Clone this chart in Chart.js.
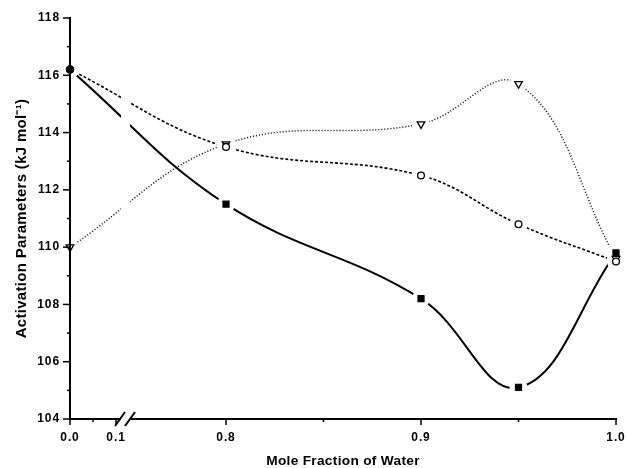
<!DOCTYPE html>
<html>
<head>
<meta charset="utf-8">
<script src="https://cdn.jsdelivr.net/npm/chart.js@4.4.0/dist/chart.umd.min.js"></script>
<style>
  html, body { margin: 0; padding: 0; background: #fff; }
</style>
</head>
<body>
<canvas id="chart" width="626" height="468"></canvas>
<script>
const moleFraction = [0.0, 0.8, 0.9, 0.95, 1.0];
const seriesSquare = [116.2, 111.5, 108.2, 105.1, 109.8];
const seriesCircle = [116.2, 113.5, 112.5, 110.8, 109.5];
const seriesTriangle = [110.0, 113.6, 114.3, 115.7, 109.6];

const xTickValues = [0.0, 0.05, 0.1, 0.8, 0.85, 0.9, 0.95, 1.0];
const xTickLabels = ["0.0", "", "0.1", "0.8", "", "0.9", "", "1.0"];

// broken axis: the 0.0-0.1 stretch is squeezed in front of 0.8-1.0
function toAxis(x) {
  return x <= 0.1 ? 0.72 + x * 0.236 : x;
}
const pts = arr => moleFraction.map((x, i) => ({ x: toAxis(x), y: arr[i] }));

const FONT = "'Liberation Sans', Arial, sans-serif";
const black = "#000";

function lineSet(arr, width, dash) {
  return {
    data: pts(arr), showLine: true, borderColor: black, borderWidth: width, borderDash: dash,
    pointRadius: 0, pointHoverRadius: 0, tension: 0.4, fill: false, order: 3
  };
}
function haloSet(arr) {
  return {
    data: pts(arr), showLine: false, pointRadius: 9, pointBorderWidth: 0,
    pointBackgroundColor: "#fff", pointHoverRadius: 9, order: 2
  };
}
function markerSet(arr, style, radius, filled, rotation) {
  return {
    data: pts(arr), showLine: false, pointStyle: style, pointRadius: radius,
    pointRotation: rotation || 0, pointBorderColor: black, pointBorderWidth: 1.3,
    pointBackgroundColor: filled ? black : "#fff", clip: false, order: 1
  };
}

// tick marks, axis break and letter spacing of the texts
const axisExtras = {
  id: "axisExtras",
  beforeDraw(chart) {
    chart.ctx.letterSpacing = "0.3px";
  },
  afterDatasetsDraw(chart) {
    const { ctx, chartArea, scales } = chart;
    const px = scales.x.getPixelForValue(toAxis(0.1));
    ctx.save();
    ctx.fillStyle = "#fff";
    ctx.fillRect(px + 5, chartArea.top, 9, chartArea.bottom - chartArea.top - 2);
    ctx.restore();
    ctx.letterSpacing = "0.9px";
  },
  afterDraw(chart) {
    const { ctx, chartArea, scales } = chart;
    ctx.letterSpacing = "0px";
    ctx.save();
    ctx.strokeStyle = black;
    ctx.lineWidth = 1.5;
    scales.y.ticks.forEach(t => {
      const y = scales.y.getPixelForValue(t.value);
      const len = t.label ? 7 : 3;
      ctx.beginPath();
      ctx.moveTo(chartArea.left - len, y);
      ctx.lineTo(chartArea.left, y);
      ctx.stroke();
    });
    scales.x.ticks.forEach(t => {
      const x = scales.x.getPixelForValue(t.value);
      const len = t.label ? 6 : 3;
      ctx.beginPath();
      ctx.moveTo(x, chartArea.bottom);
      ctx.lineTo(x, chartArea.bottom + len);
      ctx.stroke();
    });
    // break slashes
    const px = scales.x.getPixelForValue(toAxis(0.1));
    const yb = chartArea.bottom;
    ctx.fillStyle = "#fff";
    ctx.fillRect(px + 5, yb - 2, 9, 4);
    ctx.lineWidth = 2;
    [px + 4, px + 14].forEach(cx => {
      ctx.beginPath();
      ctx.moveTo(cx - 5, yb + 7);
      ctx.lineTo(cx + 5, yb - 7);
      ctx.stroke();
    });
    ctx.restore();
  }
};

new Chart(document.getElementById("chart"), {
  type: "scatter",
  data: {
    datasets: [
      lineSet(seriesSquare, 2, []),
      lineSet(seriesCircle, 1.6, [3, 2]),
      lineSet(seriesTriangle, 1.5, [1, 2]),
      haloSet(seriesSquare),
      haloSet(seriesCircle),
      haloSet(seriesTriangle),
      markerSet(seriesSquare, ["circle", "rect", "rect", "rect", "rect"], [3.6, 4.2, 4.2, 4.2, 4.2], true),
      markerSet(seriesCircle, "circle", 3.4, false),
      markerSet(seriesTriangle, "triangle", 4.4, false, 180)
    ]
  },
  options: {
    responsive: false,
    animation: false,
    layout: { padding: { top: 18, right: 0, left: 0, bottom: 0 } },
    plugins: { legend: { display: false }, tooltip: { enabled: false } },
    scales: {
      x: {
        type: "linear",
        min: 0.72,
        max: 1.0,
        afterBuildTicks: scale => {
          scale.ticks = xTickValues.map(v => ({ value: toAxis(v) }));
        },
        afterFit: scale => {
          scale.height = 49;
          scale.paddingLeft = 0;
          scale.paddingRight = 10;
        },
        grid: { display: false, drawTicks: false },
        border: { display: true, color: black, width: 2, z: 1 },
        ticks: {
          autoSkip: false, maxRotation: 0, padding: 11, color: black, z: 1,
          font: { family: FONT, size: 12, weight: "bold" },
          callback: (v, i) => xTickLabels[i]
        },
        title: {
          display: true, text: "Mole Fraction of Water", color: black,
          font: { family: FONT, size: 13.7, weight: "bold", lineHeight: 1 },
          padding: { top: 0, bottom: 0 }
        }
      },
      y: {
        min: 104,
        max: 118,
        afterFit: scale => { scale.width = 70; },
        grid: { display: false, drawTicks: false },
        border: { display: true, color: black, width: 2, z: 1 },
        ticks: {
          stepSize: 1, autoSkip: false, padding: 10, color: black, z: 1,
          font: { family: FONT, size: 12, weight: "bold" },
          callback: v => (v % 2 === 0 ? String(v) : "")
        },
        title: {
          display: true, text: "Activation Parameters (kJ mol⁻¹)", color: black,
          font: { family: FONT, size: 15, weight: "bold" },
          padding: { top: 13, bottom: 0 }
        }
      }
    }
  },
  plugins: [axisExtras]
});
</script>
</body>
</html>
